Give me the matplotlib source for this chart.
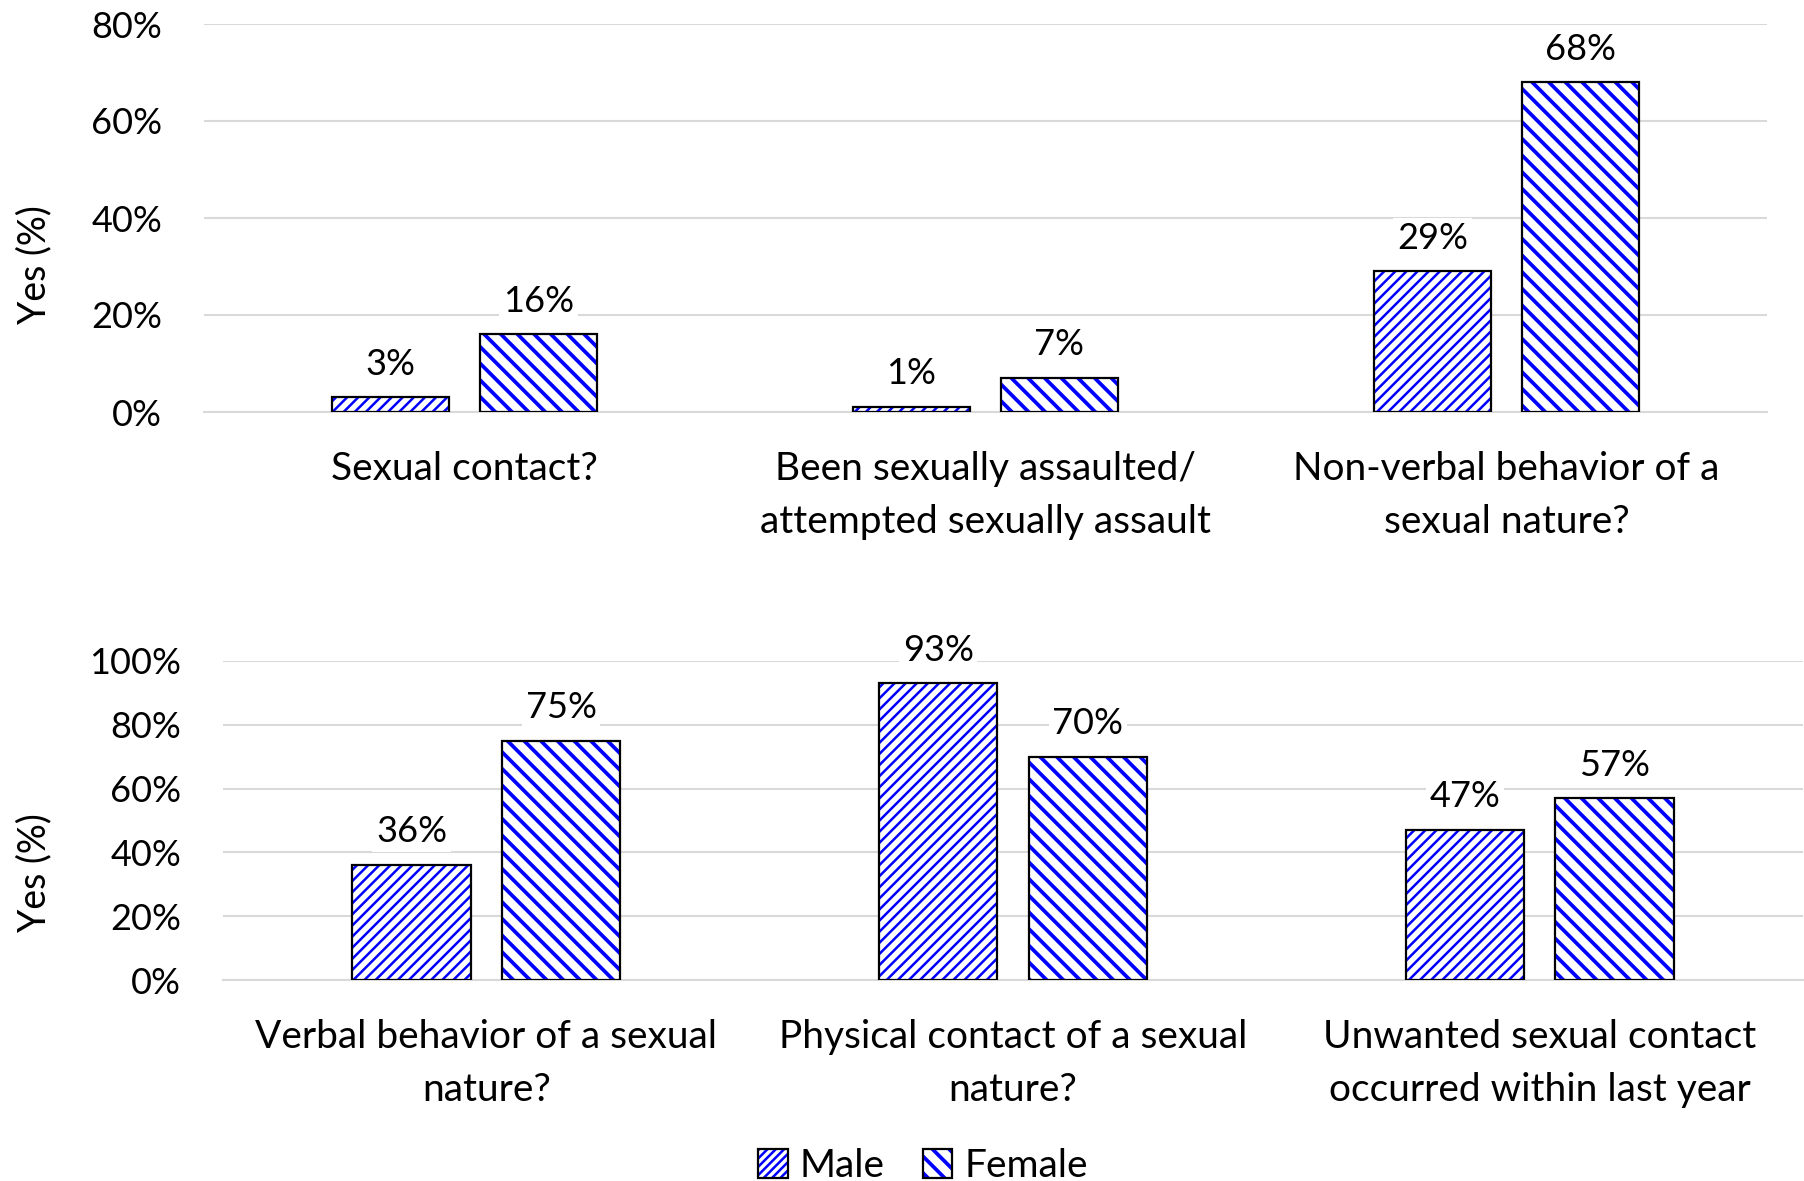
import matplotlib
matplotlib.use("Agg")
import numpy as np
import matplotlib.pyplot as plt
from matplotlib.patches import Patch
from matplotlib.legend_handler import HandlerTuple

plt.rcParams['font.family'] = ['Lato', 'DejaVu Sans']

# data
top_categories = ["Sexual contact?",
                  "Been sexually assaulted/\nattempted sexually assault",
                  "Non-verbal behavior of a\nsexual nature?"]
top_male = [3, 1, 29]
top_female = [16, 7, 68]

bottom_categories = ["Verbal behavior of a sexual\nnature?",
                     "Physical contact of a sexual\nnature?",
                     "Unwanted sexual contact\noccurred within last year"]
bottom_male = [36, 93, 47]
bottom_female = [75, 70, 57]

series_names = ["Male", "Female"]

FS = 26
CAT_FS = 28
BLUE = "#0000FF"
GRID = "#d9d9d9"
BAR_W = 0.225
OFFSET = 0.142
HATCH_LW = {'///': 1.8, '////': 1.8, '\\\\': 2.7}

plt.rcParams['hatch.color'] = BLUE


def with_hatch_lw(patch, lw):
    # hatch linewidth is a global rc setting, so set it while this patch draws
    orig = patch.draw

    def draw(renderer):
        with plt.rc_context({'hatch.linewidth': lw}):
            if hasattr(patch, '_hatch_linewidth'):
                patch._hatch_linewidth = lw
            orig(renderer)
    patch.draw = draw


def hatched_bars(ax, x, vals, hatch):
    bars = ax.bar(x, vals, BAR_W, facecolor='white', edgecolor=BLUE,
                  hatch=hatch, linewidth=0, zorder=2)
    for b in bars:
        with_hatch_lw(b, HATCH_LW[hatch])
    ax.bar(x, vals, BAR_W, fill=False, edgecolor='black', linewidth=1.6, zorder=3)
    for b, v in zip(bars, vals):
        ax.annotate(f"{v}%", xy=(b.get_x() + b.get_width() / 2, v),
                    xytext=(0, 12), textcoords="offset points",
                    ha='center', va='bottom', fontsize=FS, zorder=4,
                    bbox=dict(boxstyle='square,pad=0.1', facecolor='white', edgecolor='none'))
    return bars


def setup_axis(ax, categories, ymax, step):
    ax.set_ylim(0, ymax)
    ax.set_xlim(-0.5, len(categories) - 0.5)
    ax.set_yticks(np.arange(0, ymax + 1, step))
    ax.set_yticklabels([f"{int(t)}%" for t in np.arange(0, ymax + 1, step)])
    ax.set_xticks(np.arange(len(categories)))
    ax.set_xticklabels(categories, linespacing=1.6)
    ax.tick_params(axis='y', length=0, pad=30, labelsize=FS)
    ax.tick_params(axis='x', length=0, pad=28, labelsize=CAT_FS)
    for s in ['top', 'right', 'left']:
        ax.spines[s].set_visible(False)
    ax.spines['bottom'].set_color(GRID)
    ax.spines['bottom'].set_linewidth(1.5)
    ax.yaxis.grid(True, color=GRID, linewidth=1.5, zorder=0)
    ax.set_axisbelow(True)


fig = plt.figure(figsize=(18.04, 11.81), dpi=100)
ax1 = fig.add_axes([204 / 1804, 1 - 412 / 1181, (1767 - 204) / 1804, (412 - 24) / 1181])
ax2 = fig.add_axes([223 / 1804, 1 - 980 / 1181, (1803 - 223) / 1804, (980 - 661) / 1181])

x = np.arange(3)
setup_axis(ax1, top_categories, 80, 20)
hatched_bars(ax1, x - OFFSET, top_male, '///')
hatched_bars(ax1, x + OFFSET, top_female, '\\\\')

setup_axis(ax2, bottom_categories, 100, 20)
hatched_bars(ax2, x - OFFSET, bottom_male, '///')
hatched_bars(ax2, x + OFFSET, bottom_female, '\\\\')

fig.text(34 / 1804, 1 - 265 / 1181, "Yes (%)", rotation=90, ha='center', va='center', fontsize=27)
fig.text(34 / 1804, 1 - 873 / 1181, "Yes (%)", rotation=90, ha='center', va='center', fontsize=27)

# legend
male_h = (Patch(facecolor='white', edgecolor=BLUE, hatch='////', linewidth=0),
          Patch(fill=False, edgecolor='black', linewidth=1.6))
female_h = (Patch(facecolor='white', edgecolor=BLUE, hatch='\\\\', linewidth=0),
            Patch(fill=False, edgecolor='black', linewidth=1.6))
leg = fig.legend([male_h, female_h], series_names, loc='center',
                 bbox_to_anchor=(923 / 1804, 1 - 1166 / 1181),
                 ncol=2, frameon=False, fontsize=28,
                 handler_map={tuple: HandlerTuple(ndivide=1, pad=0)},
                 handlelength=0.75, handleheight=0.75, handletextpad=0.3, columnspacing=1.0)
for p in leg.findobj(Patch):
    h = p.get_hatch()
    if h in HATCH_LW:
        with_hatch_lw(p, HATCH_LW[h])

fig.savefig("out.png", dpi=100)
